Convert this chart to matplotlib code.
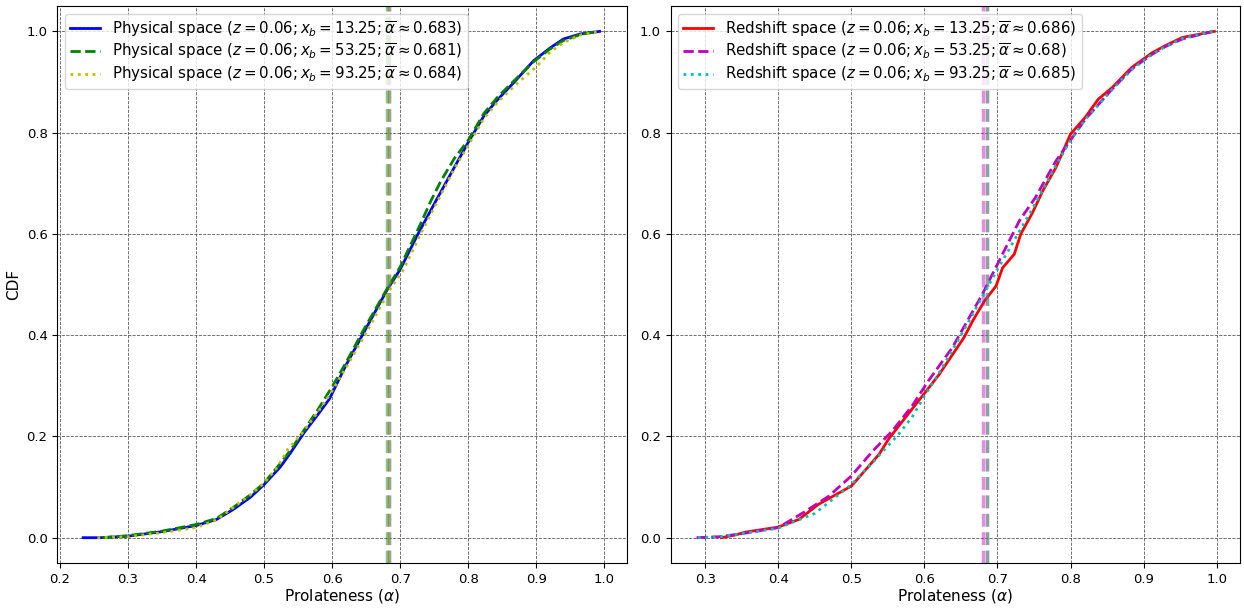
import numpy as np
import matplotlib
matplotlib.use("Agg")
import matplotlib.pyplot as plt

# --------------------------------------------------------------------------- #
# Data: CDF of prolateness
# --------------------------------------------------------------------------- #
phys_13_x = [0.234, 0.26, 0.30, 0.35, 0.40, 0.43, 0.455, 0.48, 0.50, 0.524, 0.539, 0.559,
             0.58, 0.596, 0.62, 0.646, 0.681, 0.70, 0.727, 0.754, 0.781, 0.80, 0.823,
             0.843, 0.867, 0.896, 0.921, 0.94, 0.965, 0.993]
phys_13_y = [0.0, 0.0, 0.003, 0.012, 0.024, 0.036, 0.056, 0.08, 0.105, 0.14, 0.168, 0.208,
             0.245, 0.274, 0.34, 0.404, 0.49, 0.53, 0.602, 0.669, 0.735, 0.781, 0.833,
             0.865, 0.899, 0.942, 0.968, 0.985, 0.995, 1.0]

phys_53_x = [0.262, 0.30, 0.35, 0.40, 0.43, 0.455, 0.48, 0.50, 0.524, 0.54, 0.56, 0.58,
             0.60, 0.62, 0.646, 0.68, 0.70, 0.73, 0.745, 0.76, 0.78, 0.80, 0.823, 0.843,
             0.867, 0.896, 0.921, 0.94, 0.965, 0.99]
phys_53_y = [0.0, 0.004, 0.013, 0.026, 0.038, 0.06, 0.085, 0.108, 0.147, 0.175, 0.215, 0.255,
             0.298, 0.345, 0.41, 0.49, 0.535, 0.62, 0.665, 0.705, 0.75, 0.785, 0.838, 0.87,
             0.902, 0.94, 0.966, 0.982, 0.994, 1.0]

phys_93_x = [0.255, 0.30, 0.35, 0.40, 0.43, 0.455, 0.48, 0.50, 0.52, 0.535, 0.555, 0.58,
             0.60, 0.62, 0.65, 0.685, 0.705, 0.73, 0.755, 0.78, 0.80, 0.823, 0.843, 0.87,
             0.90, 0.921, 0.94, 0.965, 0.995]
phys_93_y = [0.0, 0.002, 0.01, 0.02, 0.035, 0.06, 0.085, 0.108, 0.14, 0.175, 0.205, 0.25,
             0.29, 0.335, 0.405, 0.49, 0.53, 0.60, 0.665, 0.73, 0.775, 0.828, 0.86, 0.895,
             0.93, 0.96, 0.978, 0.993, 1.0]

red_13_x = [0.322, 0.34, 0.355, 0.40, 0.428, 0.455, 0.50, 0.52, 0.538, 0.551, 0.583, 0.60,
            0.62, 0.654, 0.666, 0.682, 0.698, 0.707, 0.723, 0.732, 0.748, 0.762, 0.78,
            0.80, 0.82, 0.838, 0.857, 0.884, 0.912, 0.93, 0.953, 0.997]
red_13_y = [0.0, 0.005, 0.011, 0.021, 0.036, 0.066, 0.102, 0.135, 0.165, 0.195, 0.254, 0.285,
            0.322, 0.395, 0.428, 0.467, 0.497, 0.533, 0.56, 0.60, 0.642, 0.685, 0.731,
            0.797, 0.83, 0.866, 0.889, 0.929, 0.958, 0.972, 0.988, 1.0]

red_53_x = [0.288, 0.32, 0.35, 0.40, 0.437, 0.469, 0.50, 0.5285, 0.556, 0.583, 0.606, 0.638,
            0.679, 0.702, 0.73, 0.752, 0.78, 0.796, 0.82, 0.857, 0.884, 0.912, 0.93,
            0.953, 0.995]
red_53_y = [0.0, 0.002, 0.008, 0.02, 0.052, 0.082, 0.122, 0.17, 0.211, 0.26, 0.311, 0.375,
            0.48, 0.546, 0.626, 0.672, 0.744, 0.777, 0.826, 0.886, 0.926, 0.955, 0.97,
            0.985, 1.0]

red_93_x = [0.29, 0.32, 0.35, 0.40, 0.45, 0.50, 0.53, 0.565, 0.583, 0.60, 0.62, 0.654,
            0.70, 0.748, 0.78, 0.80, 0.82, 0.857, 0.884, 0.912, 0.93, 0.953, 0.995]
red_93_y = [0.0, 0.002, 0.008, 0.019, 0.048, 0.105, 0.15, 0.205, 0.238, 0.28, 0.325, 0.41,
            0.53, 0.65, 0.735, 0.785, 0.826, 0.885, 0.925, 0.955, 0.97, 0.986, 1.0]

means_phys = [0.683, 0.681, 0.684]
means_red = [0.686, 0.68, 0.685]
xb_vals = ["13.25", "53.25", "93.25"]
mean_labels_phys = ["0.683", "0.681", "0.684"]
mean_labels_red = ["0.686", "0.68", "0.685"]

# --------------------------------------------------------------------------- #
# Figure
# --------------------------------------------------------------------------- #
fig, (ax1, ax2) = plt.subplots(1, 2, figsize=(12.44, 6.08), dpi=100)
fig.subplots_adjust(left=0.046, right=0.997, top=0.990, bottom=0.074, wspace=0.077)

styles = ["-", "--", ":"]
cols_phys = ["b", "g", "y"]
cols_red = ["r", "m", "c"]

phys = [(phys_13_x, phys_13_y), (phys_53_x, phys_53_y), (phys_93_x, phys_93_y)]
red = [(red_13_x, red_13_y), (red_53_x, red_53_y), (red_93_x, red_93_y)]

for (x, y), c, ls, xb, ml, m in zip(phys, cols_phys, styles, xb_vals, mean_labels_phys, means_phys):
    lab = r"Physical space ($z=0.06; x_b=%s; \overline{\alpha}\approx%s$)" % (xb, ml)
    ax1.plot(x, y, color=c, ls=ls, lw=2, label=lab)
    ax1.axvline(m, color=c, ls="--", lw=2.5, alpha=0.45)

for (x, y), c, ls, xb, ml, m in zip(red, cols_red, styles, xb_vals, mean_labels_red, means_red):
    lab = r"Redshift space ($z=0.06; x_b=%s; \overline{\alpha}\approx%s$)" % (xb, ml)
    ax2.plot(x, y, color=c, ls=ls, lw=2, label=lab)
    ax2.axvline(m, color=c, ls="--", lw=2.5, alpha=0.45)

for ax in (ax1, ax2):
    ax.grid(True, ls="--", color="0.35", lw=0.6)
    ax.set_xlabel(r"Prolateness ($\alpha$)", fontsize=11, labelpad=1)
    ax.tick_params(labelsize=9.5)
    ax.legend(loc="upper left", fontsize=10.8, labelspacing=0.2, borderpad=0.35)
ax1.set_ylabel("CDF", fontsize=11)

plt.savefig("out.png", dpi=100)
